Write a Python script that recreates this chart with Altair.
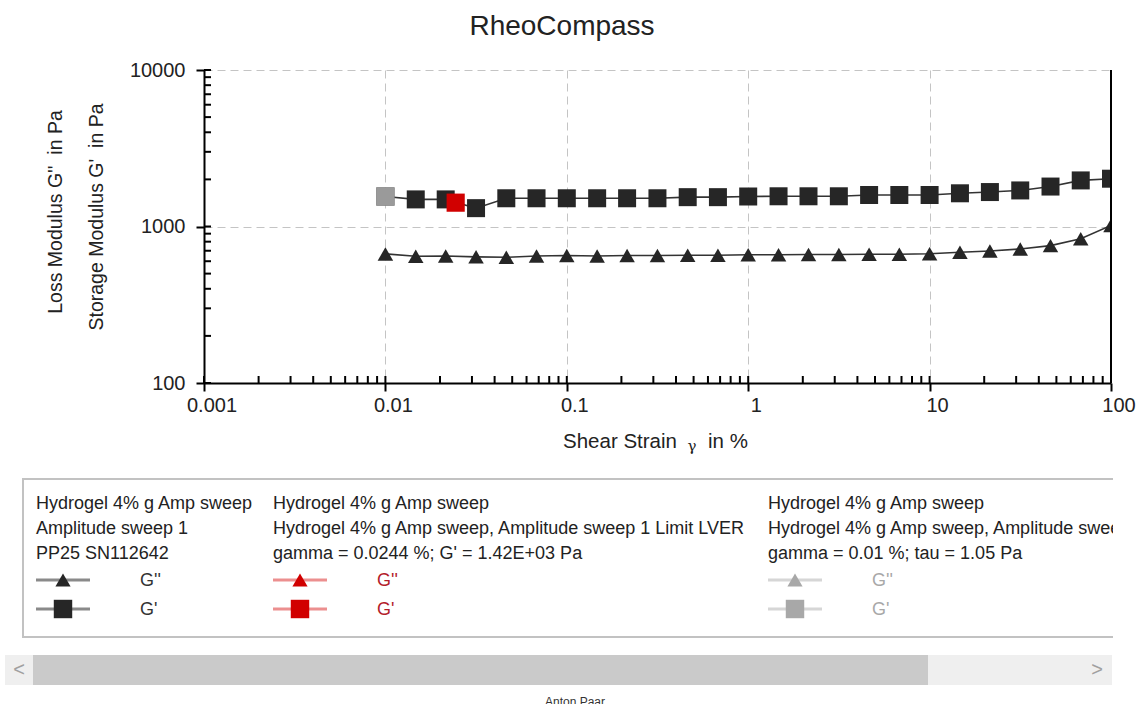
import altair as alt
import pandas as pd

# ---------------- data ----------------
strain = [0.01, 0.0147, 0.0215, 0.0316, 0.0464, 0.0681, 0.1, 0.147, 0.215, 0.316,
          0.464, 0.681, 1, 1.47, 2.15, 3.16, 4.64, 6.81, 10, 14.7, 21.5, 31.6,
          46.4, 68.1, 100]
g_storage = [1555, 1490, 1490, 1310, 1515, 1515, 1515, 1515, 1515, 1515, 1540,
             1540, 1555, 1560, 1560, 1560, 1590, 1590, 1590, 1630, 1660, 1700,
             1800, 1970, 2020]
g_loss = [668, 645, 648, 640, 636, 648, 652, 648, 652, 652, 655, 655, 660, 660,
          662, 662, 665, 665, 670, 685, 698, 718, 755, 835, 1015]

lver_strain = [0.0244]
lver_storage = [1420]
start_strain = [0.01]
start_storage = [1555]

x_ticks = [0.001, 0.01, 0.1, 1, 10, 100]
x_tick_labels = ["0.001", "0.01", "0.1", "1", "10", "100"]
y_ticks = [100, 1000, 10000]
x_minor = [k * 10.0 ** d for d in range(-3, 2) for k in range(2, 10)]
y_minor = [k * 10.0 ** d for d in range(2, 4) for k in range(2, 10)]

legend_cols = [
    ["Hydrogel 4% g Amp sweep", "Amplitude sweep 1", "PP25 SN112642"],
    ["Hydrogel 4% g Amp sweep",
     "Hydrogel 4% g Amp sweep, Amplitude sweep 1 Limit LVER",
     "gamma = 0.0244 %; G' = 1.42E+03 Pa"],
    ["Hydrogel 4% g Amp sweep",
     "Hydrogel 4% g Amp sweep, Amplitude sweep 1 Limit LVER",
     "gamma = 0.01 %; tau = 1.05 Pa"],
]
legend_series = ["G''", "G'"]

# ---------------- layout ----------------
FONT = "Liberation Sans"
OX, OY = 204, 70
W, H = 907, 313

def cx(v):
    return v - OX

def cy(v):
    return v - OY

xs = alt.Scale(type="log", domain=[0.001, 100], nice=False)
ys = alt.Scale(type="log", domain=[100, 10000], nice=False)

xaxis = alt.Axis(values=x_ticks, title=None, labels=False,
                 tickSize=8, tickWidth=2, tickColor="black",
                 domainColor="black", domainWidth=2, grid=True,
                 gridDash=[8, 5], gridColor="#c4c4c4", gridWidth=1)
yaxis = alt.Axis(values=y_ticks, format="d", title=None, labelFont=FONT,
                 labelFontSize=20, labelColor="#222", labelPadding=11,
                 labelFlush=False, tickSize=8, tickWidth=2, tickColor="black",
                 domainColor="black", domainWidth=2, grid=True,
                 gridDash=[8, 5], gridColor="#c4c4c4", gridWidth=1)

X = alt.X("x:Q", scale=xs, axis=xaxis)
Y = alt.Y("y:Q", scale=ys, axis=yaxis)

main = pd.DataFrame({
    "x": strain * 2,
    "y": g_storage + g_loss,
    "series": ["G'"] * len(strain) + ["G''"] * len(strain),
})

lines = alt.Chart(main).mark_line(color="#333", strokeWidth=1.6, clip=True).encode(
    x=X, y=Y, detail="series:N")

squares = alt.Chart(main[main.series == "G'"]).mark_point(
    shape="square", filled=True, size=324, color="#262626", opacity=1, clip=True
).encode(x=X, y=Y)
triangles = alt.Chart(main[main.series == "G''"]).mark_point(
    shape="triangle-up", filled=True, size=240, color="#262626", opacity=1, clip=True
).encode(x=X, y=Y)

start_pt = alt.Chart(pd.DataFrame({"x": start_strain, "y": start_storage})).mark_point(
    shape="square", filled=True, size=340, color="#9a9a9a", opacity=1, clip=True
).encode(x=X, y=Y)
lver_pt = alt.Chart(pd.DataFrame({"x": lver_strain, "y": lver_storage})).mark_point(
    shape="square", filled=True, size=330, color="#d10000", opacity=1, clip=True
).encode(x=X, y=Y)

# x tick labels (slightly right of the tick, as in the reference)
xlab = alt.Chart(pd.DataFrame({"x": x_ticks, "lab": x_tick_labels})).mark_text(
    font=FONT, fontSize=20, color="#222", align="center", baseline="top", dx=8, dy=0
).encode(x=X, y=alt.value(H + 13), text="lab:N")

# inward ticks
xt_major = alt.Chart(pd.DataFrame({"x": x_ticks})).mark_rule(color="black", strokeWidth=2).encode(
    x=X, y=alt.value(H), y2=alt.value(H - 7))
xt_minor = alt.Chart(pd.DataFrame({"x": x_minor})).mark_rule(color="black", strokeWidth=2).encode(
    x=X, y=alt.value(H), y2=alt.value(H - 7))
yt_major = alt.Chart(pd.DataFrame({"y": y_ticks})).mark_rule(color="black", strokeWidth=2).encode(
    y=Y, x=alt.value(0), x2=alt.value(7))
yt_minor = alt.Chart(pd.DataFrame({"y": y_minor})).mark_rule(color="black", strokeWidth=2).encode(
    y=Y, x=alt.value(0), x2=alt.value(7))

right_border = alt.Chart(pd.DataFrame({"a": [0]})).mark_rule(color="black", strokeWidth=2).encode(
    x=alt.value(W), y=alt.value(0), y2=alt.value(H))

# ---------------- texts around the plot ----------------
centered_texts = pd.DataFrame([
    {"px": cx(562), "py": cy(27), "t": "RheoCompass", "fs": 28, "ang": 0},
    {"px": cx(56), "py": cy(212), "t": "Loss Modulus G''\u00a0 in Pa", "fs": 19.5, "ang": 270},
    {"px": cx(97), "py": cy(217), "t": "Storage Modulus G'\u00a0 in Pa", "fs": 19.5, "ang": 270},
])
titles = alt.Chart(centered_texts).mark_text(font=FONT, color="#222", baseline="middle",
                                              align="center").encode(
    x=alt.X("px:Q", scale=None), y=alt.Y("py:Q", scale=None), text="t:N",
    size=alt.Size("fs:Q", scale=None), angle=alt.Angle("ang:Q", scale=None))

xtitle_parts = pd.DataFrame([
    {"px": cx(563), "py": cy(442), "t": "Shear Strain"},
    {"px": cx(708), "py": cy(442), "t": "in %"},
])
xtitle = alt.Chart(xtitle_parts).mark_text(font=FONT, fontSize=20.5, color="#222",
                                           baseline="middle", align="left").encode(
    x=alt.X("px:Q", scale=None), y=alt.Y("py:Q", scale=None), text="t:N")

gamma = alt.Chart(pd.DataFrame({"px": [cx(692)], "py": [cy(446)], "t": ["γ"]})).mark_text(
    font="DejaVu Serif", fontSize=15, color="#222", align="center", baseline="middle").encode(
    x=alt.X("px:Q", scale=None), y=alt.Y("py:Q", scale=None), text="t:N")

# ---------------- legend box ----------------
col_x = [36, 273, 768]
base_y = [509, 534, 559]
row_y = [580, 609]
sym_line = ["#8a8a8a", "#ec8f8f", "#d6d6d6"]
sym_fill = ["#262626", "#d10000", "#a8a8a8"]
lab_col = ["#333333", "#b3202a", "#a8a8a8"]

rects = pd.DataFrame([
    {"x1": cx(22), "x2": cx(1113), "y1": cy(478), "y2": cy(480), "c": "#c2c2c2"},
    {"x1": cx(22), "x2": cx(1113), "y1": cy(636), "y2": cy(638), "c": "#c2c2c2"},
    {"x1": cx(22), "x2": cx(24), "y1": cy(478), "y2": cy(638), "c": "#c2c2c2"},
    {"x1": cx(5), "x2": cx(1112), "y1": cy(655), "y2": cy(685), "c": "#efefef"},
    {"x1": cx(33), "x2": cx(928), "y1": cy(655), "y2": cy(685), "c": "#cacaca"},
])

leg_text_rows = []
for ci, col in enumerate(legend_cols):
    for li, line in enumerate(col):
        leg_text_rows.append({"px": cx(col_x[ci]), "py": cy(base_y[li]), "t": line,
                              "c": "#222222"})
    for ri, s in enumerate(legend_series):
        leg_text_rows.append({"px": cx(col_x[ci] + 104), "py": cy(row_y[ri] + 6), "t": s,
                              "c": lab_col[ci]})
leg_text = pd.DataFrame(leg_text_rows)

sym_rows = []
mk_rows = []
for ci in range(3):
    for ri, s in enumerate(legend_series):
        sym_rows.append({"x1": cx(col_x[ci]), "x2": cx(col_x[ci] + 54),
                         "py": cy(row_y[ri]), "c": sym_line[ci]})
        mk_rows.append({"px": cx(col_x[ci] + 27), "py": cy(row_y[ri]),
                        "shape": "triangle-up" if s == "G''" else "square",
                        "sz": 230 if s == "G''" else 340, "c": sym_fill[ci]})
sym_df = pd.DataFrame(sym_rows)
mk_df = pd.DataFrame(mk_rows)

rect_layer = alt.Chart(rects).mark_rect().encode(
    x=alt.X("x1:Q", scale=None), x2="x2:Q", y=alt.Y("y1:Q", scale=None), y2="y2:Q",
    color=alt.Color("c:N", scale=None))

leg_text_layer = alt.Chart(leg_text).mark_text(font=FONT, fontSize=18, align="left",
                                               baseline="alphabetic").encode(
    x=alt.X("px:Q", scale=None), y=alt.Y("py:Q", scale=None), text="t:N",
    color=alt.Color("c:N", scale=None))

sym_layer = alt.Chart(sym_df).mark_rule(strokeWidth=3).encode(
    x=alt.X("x1:Q", scale=None), x2="x2:Q", y=alt.Y("py:Q", scale=None),
    color=alt.Color("c:N", scale=None))

mk_layer = alt.Chart(mk_df).mark_point(filled=True, opacity=1).encode(
    x=alt.X("px:Q", scale=None), y=alt.Y("py:Q", scale=None),
    shape=alt.Shape("shape:N", scale=None), size=alt.Size("sz:Q", scale=None),
    color=alt.Color("c:N", scale=None))

mask = alt.Chart(pd.DataFrame({"a": [0]})).mark_rect(color="white").encode(
    x=alt.value(cx(1113)), x2=alt.value(cx(1139)), y=alt.value(cy(482)),
    y2=alt.value(cy(634)))

arrows = pd.DataFrame([
    {"px": cx(19), "py": cy(670), "t": "<"},
    {"px": cx(1097), "py": cy(670), "t": ">"},
])
arrow_layer = alt.Chart(arrows).mark_text(font=FONT, fontSize=20, color="#a0a0a0",
                                           align="center", baseline="middle").encode(
    x=alt.X("px:Q", scale=None), y=alt.Y("py:Q", scale=None), text="t:N")

footer = alt.Chart(pd.DataFrame({"px": [cx(575)], "py": [cy(697)], "t": ["Anton Paar"]})).mark_text(
    font=FONT, fontSize=12, color="#333", align="center", baseline="top").encode(
    x=alt.X("px:Q", scale=None), y=alt.Y("py:Q", scale=None), text="t:N")

chart = alt.layer(
    lines, squares, triangles, start_pt, lver_pt, xlab,
    xt_major, xt_minor, yt_major, yt_minor, right_border,
    titles, xtitle, gamma, rect_layer, leg_text_layer, sym_layer, mk_layer, mask,
    arrow_layer, footer,
).properties(
    width=W, height=H,
    padding={"left": OX, "top": OY, "right": 1139 - OX - W, "bottom": 704 - OY - H},
    autosize=alt.AutoSizeParams(type="none"),
    background="white",
).configure_view(stroke=None)

chart.save("out.html", embed_options={"renderer": "svg", "actions": False})
